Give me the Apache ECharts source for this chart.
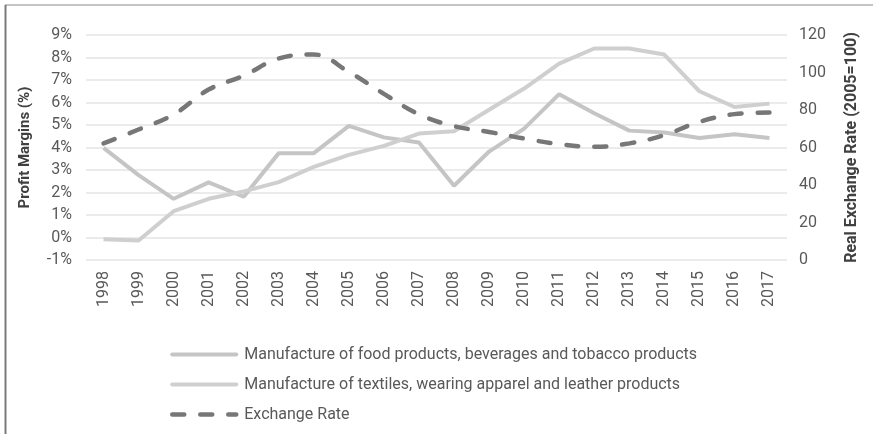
<!DOCTYPE html>
<html>
<head>
<meta charset="utf-8">
<script src="https://cdn.jsdelivr.net/npm/echarts@6/dist/echarts.min.js"></script>
<style>
html,body{margin:0;padding:0;background:#fff;}
#c{width:873px;height:434px;}
</style>
</head>
<body>
<div id="c"></div>
<script>
var years = ['1998','1999','2000','2001','2002','2003','2004','2005','2006','2007','2008','2009','2010','2011','2012','2013','2014','2015','2016','2017'];
var foodMargins = [3.98,2.77,1.72,2.45,1.81,3.75,3.75,4.96,4.45,4.22,2.3,3.82,4.84,6.37,5.52,4.75,4.67,4.42,4.59,4.42];
var textileMargins = [-0.08,-0.13,1.17,1.72,2.05,2.46,3.14,3.67,4.07,4.62,4.72,5.68,6.62,7.73,8.4,8.4,8.13,6.5,5.8,5.95];
var exchangeRate = [62.2,69.6,77.6,90.9,98.3,107.5,109.6,100.3,88.6,77.7,71.4,68.3,64.8,61.8,60.4,62.2,66.6,73.7,77.8,78.7];
var seriesNames = ['Manufacture of food products, beverages and tobacco products','Manufacture of textiles, wearing apparel and leather products','Exchange Rate'];

var chart = echarts.init(document.getElementById('c'), null, {renderer:'canvas'});
var txt = '#595959';
var ff = 'Roboto, "Liberation Sans", Arial, sans-serif';
chart.setOption({
  animation:false,
  textStyle:{fontFamily:ff},
  graphic:[
    {type:'line', shape:{x1:5,y1:5,x2:873,y2:5}, style:{stroke:'#8a8a8a', lineWidth:1}},
    {type:'line', shape:{x1:5.5,y1:5,x2:5.5,y2:434}, style:{stroke:'#7a7a7a', lineWidth:2}}
  ],
  grid:{left:86,right:86,top:35,bottom:174,containLabel:false},
  legend:{
    orient:'vertical', left:165, top:341, itemWidth:64, itemHeight:12, itemGap:13,
    itemStyle:{opacity:0},
    lineStyle:{width:'inherit', cap:'round'},
    textStyle:{color:txt,fontSize:16,lineHeight:17,fontFamily:ff,padding:[0,0,0,3]},
    data:seriesNames
  },
  xAxis:{
    type:'category', data:years, boundaryGap:true,
    axisLine:{show:false}, axisTick:{show:false},
    axisLabel:{rotate:90, color:txt, fontSize:16, margin:11, fontFamily:ff}
  },
  yAxis:[
    {type:'value', min:-1, max:9, interval:1, position:'left',
     name:'Profit Margins (%)', nameLocation:'middle', nameGap:53, nameRotate:90,
     nameTextStyle:{fontWeight:'bold', fontSize:15, color:'#404040', fontFamily:ff},
     axisLabel:{formatter:function(v){return v+'%';}, color:txt, fontSize:16, margin:14, fontFamily:ff},
     axisLine:{show:false}, axisTick:{show:false},
     splitLine:{lineStyle:{color:'#ebebeb', width:2}}},
    {type:'value', min:0, max:120, interval:20, position:'right',
     name:'Real Exchange Rate (2005=100)', nameLocation:'middle', nameGap:57, nameRotate:90,
     nameTextStyle:{fontWeight:'bold', fontSize:16, color:'#404040', fontFamily:ff},
     axisLabel:{color:txt, fontSize:16, margin:12, fontFamily:ff},
     axisLine:{show:false}, axisTick:{show:false}, splitLine:{show:false}}
  ],
  series:[
    {name:seriesNames[0], type:'line', data:foodMargins, yAxisIndex:0, symbol:'none',
     lineStyle:{color:'#c5c5c5', width:4}, itemStyle:{color:'#c5c5c5'}},
    {name:seriesNames[1], type:'line', data:textileMargins, yAxisIndex:0, symbol:'none',
     lineStyle:{color:'#cfcfcf', width:4}, itemStyle:{color:'#cfcfcf'}},
    {name:seriesNames[2], type:'line', data:exchangeRate, yAxisIndex:1, symbol:'none', smooth:0.4,
     lineStyle:{color:'#777777', width:4.5, type:[12,16], cap:'round'}, itemStyle:{color:'#777777'}}
  ]
});
</script>
</body>
</html>
